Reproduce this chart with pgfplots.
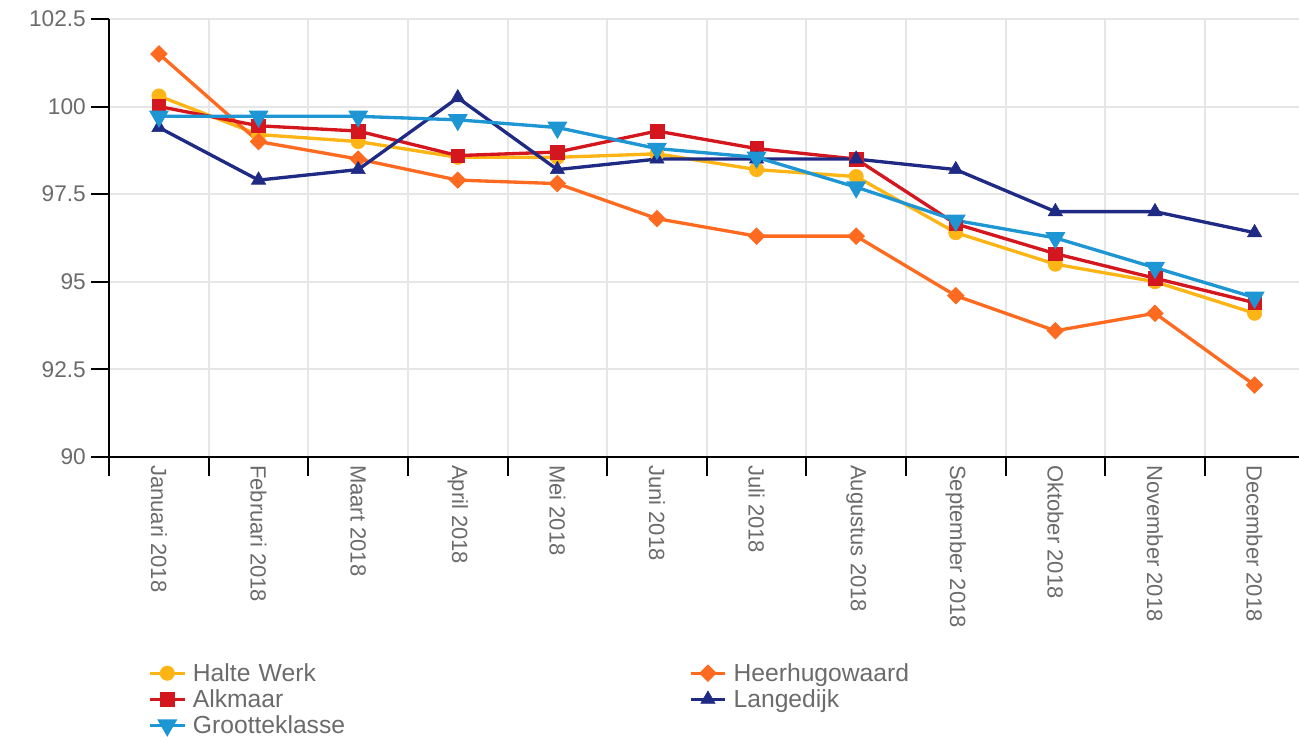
\documentclass[border=0pt]{standalone}
\usepackage{fontspec}
\setmainfont{Liberation Sans}
\usepackage{pgfplots}
\pgfplotsset{compat=1.18}
\definecolor{cHW}{HTML}{FDB515}
\definecolor{cHH}{HTML}{FF6A21}
\definecolor{cAL}{HTML}{D4161F}
\definecolor{cLA}{HTML}{1F2A85}
\definecolor{cGR}{HTML}{1D96D3}
\definecolor{cgrid}{HTML}{E6E6E6}
\definecolor{ctxt}{HTML}{6B6B6B}
\begin{document}
\begin{tikzpicture}
\begin{axis}[
  x=74.7pt, y=26.28pt,
  xmin=-0.5, xmax=11.5, ymin=90, ymax=102.5,
  axis x line=bottom, axis y line=left,
  axis line style={-, black, line width=1.5pt},
  tick style={black, line width=1.5pt},
  tick align=outside,
  major tick length=14pt,
  xtick={-0.5,0.5,...,11.5},
  xticklabels={,,,,,,,,,,,,,},
  extra x ticks={0,1,2,3,4,5,6,7,8,9,10,11},
  extra x tick labels={Januari 2018,Februari 2018,Maart 2018,April 2018,Mei 2018,Juni 2018,Juli 2018,Augustus 2018,September 2018,Oktober 2018,November 2018,December 2018},
  extra x tick style={major tick length=0pt, grid=none,
     xticklabel style={rotate=-90, anchor=west, inner sep=0pt, xshift=6pt}},
  ytick={90,92.5,95,97.5,100,102.5},
  yticklabels={90,92.5,95,97.5,100,102.5},
  xmajorgrids=true, ymajorgrids=true,
  grid style={cgrid, line width=1.5pt},
  ticklabel style={font=\fontsize{16.5}{19}\selectfont, text=ctxt},
  yticklabel style={font=\fontsize{17}{19}\selectfont},
  clip=false,
  legend columns=2,
  legend style={draw=none, fill=none, inner sep=0pt, at={(0.0325,-0.4635)}, anchor=north west,
     font=\fontsize{18.5}{20}\selectfont, text=ctxt,
     nodes={inner sep=0pt, text width=372pt, align=left, text depth=0.3ex, minimum height=19.5pt},
     /tikz/every even column/.append style={column sep=0pt}},
  legend image code/.code={\draw[mark repeat=2,mark phase=2] plot coordinates {(0pt,0pt)(13pt,0pt)(26pt,0pt)}; \path (31pt,0pt);},
  every axis plot/.append style={line width=2.5pt, mark options={solid, line width=0.4pt}},
]
\addplot[color=cHW, mark=*, mark size=5.4pt] coordinates {
(0,100.3)(1,99.2)(2,99.0)(3,98.55)(4,98.55)(5,98.65)(6,98.2)(7,98.0)(8,96.4)(9,95.5)(10,95.0)(11,94.1)};
\addlegendentry{Halte Werk}
\addplot[color=cHH, mark=square*, mark size=3.4pt, mark options={rotate=45}] coordinates {
(0,101.5)(1,99.0)(2,98.5)(3,97.9)(4,97.8)(5,96.8)(6,96.3)(7,96.3)(8,94.6)(9,93.6)(10,94.1)(11,92.05)};
\addlegendentry{Heerhugowaard}
\addplot[color=cAL, mark=square*, mark size=5.1pt] coordinates {
(0,100.0)(1,99.45)(2,99.3)(3,98.6)(4,98.7)(5,99.3)(6,98.8)(7,98.5)(8,96.65)(9,95.8)(10,95.1)(11,94.4)};
\addlegendentry{Alkmaar}
\addplot[color=cLA, mark=triangle*, mark size=6.2pt] coordinates {
(0,99.4)(1,97.9)(2,98.2)(3,100.25)(4,98.2)(5,98.5)(6,98.5)(7,98.5)(8,98.2)(9,97.0)(10,97.0)(11,96.4)};
\addlegendentry{Langedijk}
\addplot[color=cGR, mark=triangle*, mark size=6.2pt, mark options={rotate=180}] coordinates {
(0,99.72)(1,99.72)(2,99.72)(3,99.62)(4,99.4)(5,98.8)(6,98.55)(7,97.7)(8,96.75)(9,96.25)(10,95.4)(11,94.55)};
\addlegendentry{Grootteklasse}
\coordinate (bbl) at (axis cs:-1.596,82.01);
\coordinate (btr) at (axis cs:11.446,103.04);
\end{axis}
\pgfresetboundingbox
\path[use as bounding box] (bbl) rectangle (btr);
\end{tikzpicture}
\end{document}
